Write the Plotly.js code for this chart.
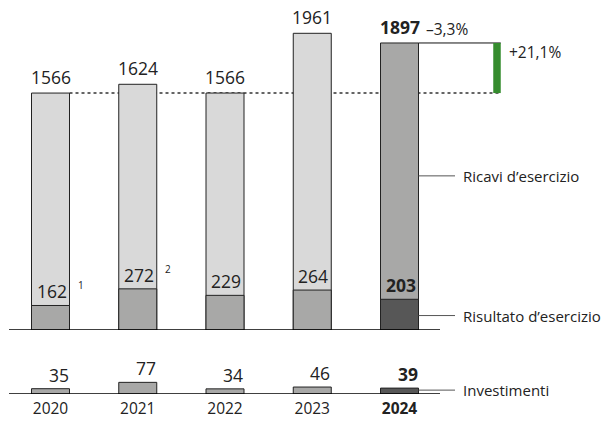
<!DOCTYPE html>
<html>
<head>
<meta charset="utf-8">
<script src="https://cdn.plot.ly/plotly-3.0.1.min.js"></script>
<style>html,body{margin:0;padding:0;background:#fff;}#chart{width:601px;height:424px;}</style>
</head>
<body>
<div id="chart"></div>
<script>
// ---- data ----
const years = ['2020', '2021', '2022', '2023', '2024'];
const revenue = [1566, 1624, 1566, 1961, 1897];      // Ricavi d'esercizio
const result = [162, 272, 229, 264, 203];             // Risultato d'esercizio
const investments = [35, 77, 34, 46, 39];             // Investimenti
const resultNotes = ['1', '2', '', '', ''];
const changeLabels = ['\u20133,3%', '+21,1%'];
const seriesNames = ['Ricavi d\u2019esercizio', 'Risultato d\u2019esercizio', 'Investimenti'];

// ---- geometry / style ----
const W = 601, H = 424;
const c0 = 50.5, step = 87.25;                 // px of first bar centre, px between bars
const pxToX = p => (p - c0) / step;
const scale = 0.1513;                          // px per unit
const topBase = 330, lowBase = 394, lowTop = 340;
const barW = 38 / step;
const last = years.length - 1;
const xs = years.map((_, i) => i);
const greenX = pxToX(497), greenW = 7.5 / step;
const leaderX1 = last + barW / 2, leaderX2 = pxToX(455);
const FONT = 'Open Sans, Noto Sans, sans-serif';
const TXT = '#222';
const isLast = i => i === last;

const lightC = '#d9d9d9', midC = '#a8a8a7', darkC = '#575757', greenC = '#358c2e';

const traces = [
  { type: 'bar', x: xs, y: revenue, width: barW, xaxis: 'x', yaxis: 'y',
    marker: { color: revenue.map((_, i) => isLast(i) ? midC : lightC), line: { color: '#222', width: 1 } },
    hoverinfo: 'skip' },
  { type: 'bar', x: xs, y: result, width: barW, xaxis: 'x', yaxis: 'y',
    marker: { color: result.map((_, i) => isLast(i) ? darkC : midC), line: { color: '#222', width: 1 } },
    hoverinfo: 'skip' },
  { type: 'bar', x: [greenX], y: [revenue[last] - revenue[0]], base: [revenue[0]], width: greenW,
    xaxis: 'x', yaxis: 'y', marker: { color: greenC, line: { width: 0 } }, hoverinfo: 'skip' },
  { type: 'bar', x: xs, y: investments, width: barW, xaxis: 'x', yaxis: 'y2',
    marker: { color: investments.map((_, i) => isLast(i) ? darkC : midC), line: { color: '#222', width: 1 } },
    hoverinfo: 'skip' }
];

const shapes = [
  // baselines
  { type: 'line', xref: 'x', yref: 'y', x0: pxToX(9), x1: pxToX(440), y0: 0, y1: 0, line: { color: '#000', width: 1.5 } },
  { type: 'line', xref: 'x', yref: 'y2', x0: pxToX(9), x1: pxToX(440), y0: 0, y1: 0, line: { color: '#000', width: 1.5 } },
  // reference dotted line at first year revenue
  { type: 'line', xref: 'x', yref: 'y', x0: barW / 2, x1: greenX + greenW / 2, y0: revenue[0], y1: revenue[0],
    line: { color: '#333', width: 1.5, dash: 'dot' }, layer: 'below' },
  // line at last revenue
  { type: 'line', xref: 'x', yref: 'y', x0: last + barW / 2, x1: greenX + greenW / 2, y0: revenue[last], y1: revenue[last],
    line: { color: '#111', width: 1 }, layer: 'below' },
  // leader lines
  { type: 'line', xref: 'x', yref: 'y', x0: leaderX1, x1: leaderX2, y0: revenue[last] * 0.537, y1: revenue[last] * 0.537, line: { color: '#555', width: 1 } },
  { type: 'line', xref: 'x', yref: 'y', x0: leaderX1, x1: leaderX2, y0: result[last] * 0.47, y1: result[last] * 0.47, line: { color: '#555', width: 1 } },
  { type: 'line', xref: 'x', yref: 'y2', x0: leaderX1, x1: leaderX2, y0: investments[last] * 0.66, y1: investments[last] * 0.66, line: { color: '#555', width: 1 } }
];

const ann = [];
const txt = (v, i) => isLast(i) ? '<b>' + v + '</b>' : String(v);
xs.forEach(i => {
  ann.push({ x: i, y: revenue[i], xref: 'x', yref: 'y', text: txt(revenue[i], i), showarrow: false,
    yanchor: 'middle', yshift: 16, font: { size: 17.5, color: TXT, family: FONT } });
  ann.push({ x: i, y: result[i], xref: 'x', yref: 'y', text: txt(result[i], i), showarrow: false,
    yanchor: 'middle', xshift: 1, yshift: 14, font: { size: 17.5, color: TXT, family: FONT } });
  if (resultNotes[i]) {
    ann.push({ x: i, y: result[i], xref: 'x', yref: 'y', text: resultNotes[i], showarrow: false,
      xanchor: 'left', yanchor: 'middle', xshift: 25, yshift: 20, font: { size: 10, color: TXT, family: FONT } });
  }
  ann.push({ x: i, y: investments[i], xref: 'x', yref: 'y2', text: txt(investments[i], i), showarrow: false,
    yanchor: 'middle', xshift: 8, yshift: 14, font: { size: 17.5, color: TXT, family: FONT } });
});
// change labels
ann.push({ x: last + barW / 2, y: revenue[last], xref: 'x', yref: 'y', text: changeLabels[0], showarrow: false,
  xanchor: 'left', yanchor: 'middle', xshift: 5, yshift: 14, font: { size: 15.5, color: TXT, family: FONT } });
ann.push({ x: greenX + greenW / 2, y: revenue[last], xref: 'x', yref: 'y', text: changeLabels[1], showarrow: false,
  xanchor: 'left', yanchor: 'middle', xshift: 6, yshift: -9, font: { size: 15.5, color: TXT, family: FONT } });
// series labels
[[revenue[last] * 0.537, 'y'], [result[last] * 0.47, 'y'], [investments[last] * 0.66, 'y2']].forEach((p, k) => {
  ann.push({ x: leaderX2, y: p[0], xref: 'x', yref: p[1], text: seriesNames[k], showarrow: false,
    xanchor: 'left', yanchor: 'middle', xshift: 6, font: { size: 15, color: TXT, family: FONT } });
});

const layout = {
  width: W, height: H,
  margin: { l: 0, r: 0, t: 0, b: 0, pad: 0 },
  paper_bgcolor: '#fff', plot_bgcolor: 'rgba(0,0,0,0)',
  showlegend: false, barmode: 'overlay',
  font: { family: FONT, color: TXT },
  xaxis: { range: [pxToX(0), pxToX(W)], anchor: 'y2', tickvals: xs,
    ticktext: years.map((y, i) => isLast(i) ? '<b>' + y + '</b>' : y),
    showgrid: false, zeroline: false, showline: false, ticks: '', ticklabelstandoff: 3,
    tickfont: { size: 15.5, color: TXT, family: FONT }, fixedrange: true },
  yaxis: { domain: [(H - topBase) / H, 1], range: [0, topBase / scale], visible: false, fixedrange: true },
  yaxis2: { domain: [(H - lowBase) / H, (H - lowTop) / H], range: [0, (lowBase - lowTop) / scale], visible: false, fixedrange: true },
  shapes: shapes,
  annotations: ann
};

Plotly.newPlot('chart', traces, layout, { staticPlot: true, displayModeBar: false });
</script>
</body>
</html>
